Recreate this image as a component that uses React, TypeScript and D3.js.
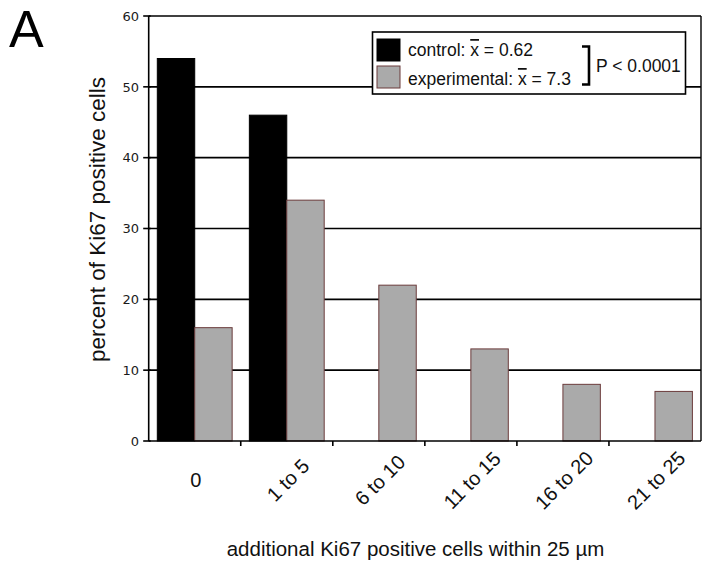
import React from "react";
import * as d3 from "d3";

const categories = ["0", "1 to 5", "6 to 10", "11 to 15", "16 to 20", "21 to 25"];
const seriesNames = ["control", "experimental"];
const controlValues = [54, 46, 0, 0, 0, 0];
const experimentalValues = [16, 34, 22, 13, 8, 7];
const yTicks = [0, 10, 20, 30, 40, 50, 60];

const W = 703;
const H = 565;
const left = 148.7;
const right = 701;
const top = 16;
const bottom = 441;

const SANS = "'Liberation Sans', Arial, Helvetica, sans-serif";
const GRAY = "#aaaaaa";
const GRAY_STROKE = "#6b3b3b";

export default function App() {
  const x0 = d3.scaleBand<string>().domain(categories).range([left, right]).padding(0);
  const x1 = d3
    .scaleBand<string>()
    .domain(seriesNames)
    .range([0, x0.bandwidth()])
    .paddingInner(0)
    .paddingOuter(0.23);
  const y = d3.scaleLinear().domain([0, 60]).range([bottom, top]);

  const series = [
    { name: "control", values: controlValues, fill: "#000000", stroke: "#000000" },
    { name: "experimental", values: experimentalValues, fill: GRAY, stroke: GRAY_STROKE },
  ];

  const boundaries = categories.slice(1).map((c) => x0(c) as number);

  return (
    <svg
      width={W}
      height={H}
      viewBox={`0 0 ${W} ${H}`}
      style={{ position: "absolute", left: 0, top: 0, background: "#fff" }}
    >
      <rect x={0} y={0} width={W} height={H} fill="#fff" />
      <text x={9} y={47} fontFamily={SANS} fontSize={52} fill="#000">
        A
      </text>

      {yTicks
        .filter((t) => t > 0)
        .map((t) => (
          <line
            key={"g" + t}
            x1={left}
            x2={right}
            y1={y(t)}
            y2={y(t)}
            stroke="#000"
            strokeWidth={1.6}
          />
        ))}
      <line x1={right} x2={right} y1={top} y2={bottom} stroke="#000" strokeWidth={1.4} />

      {series.map((s) =>
        s.values.map((v, i) =>
          v > 0 ? (
            <rect
              key={s.name + i}
              x={(x0(categories[i]) as number) + (x1(s.name) as number)}
              y={y(v)}
              width={x1.bandwidth()}
              height={y(0) - y(v)}
              fill={s.fill}
              stroke={s.stroke}
              strokeWidth={1}
            />
          ) : null
        )
      )}

      <line x1={left} x2={left} y1={top} y2={bottom} stroke="#000" strokeWidth={1.6} />
      <line x1={left} x2={right} y1={bottom} y2={bottom} stroke="#000" strokeWidth={1.6} />
      {yTicks.map((t) => (
        <g key={"yt" + t}>
          <line x1={left - 5.5} x2={left + 2} y1={y(t)} y2={y(t)} stroke="#000" strokeWidth={1.6} />
          <text
            x={139}
            y={y(t)}
            dy="0.36em"
            textAnchor="end"
            fontFamily="'DejaVu Sans', Verdana, sans-serif"
            fontSize={13}
            fill="#1a1a1a"
          >
            {t}
          </text>
        </g>
      ))}
      {boundaries.map((bx, i) => (
        <line key={"xt" + i} x1={bx} x2={bx} y1={bottom} y2={bottom + 5} stroke="#000" strokeWidth={1.6} />
      ))}
      {categories.map((c) => {
        const cx = (x0(c) as number) + x0.bandwidth() / 2 + 1;
        const rot = c.length > 1 ? -45 : 0;
        return (
          <text
            key={"xl" + c}
            transform={`translate(${cx},${480}) rotate(${rot})`}
            textAnchor="middle"
            dy="0.36em"
            fontFamily={SANS}
            fontSize={20}
            fill="#111"
          >
            {c}
          </text>
        );
      })}

      <text
        transform={`translate(105,${219.5}) rotate(-90)`}
        textAnchor="middle"
        fontFamily={SANS}
        fontSize={22.5}
        fill="#111"
      >
        percent of Ki67 positive cells
      </text>
      <text x={415.5} y={556} textAnchor="middle" fontFamily={SANS} fontSize={20.5} fill="#111">
        additional Ki67 positive cells within 25 µm
      </text>

      <rect x={372.5} y={32} width={313} height={62} fill="#fff" stroke="#000" strokeWidth={1.6} />
      <rect x={377} y={39} width={23} height={22} fill="#000" stroke="#000" strokeWidth={1} />
      <rect x={377} y={66} width={23} height={22} fill={GRAY} stroke={GRAY_STROKE} strokeWidth={1} />
      <text x={408} y={56} fontFamily={SANS} fontSize={17.5} fill="#111">
        control: <tspan style={{ textDecoration: "overline" }}>x</tspan> = 0.62
      </text>
      <text x={408} y={85} fontFamily={SANS} fontSize={17.5} fill="#111">
        experimental: <tspan style={{ textDecoration: "overline" }}>x</tspan> = 7.3
      </text>
      <path d="M582,46.5 H589 V84.5 H582" fill="none" stroke="#000" strokeWidth={2.6} />
      <text x={596} y={72} fontFamily={SANS} fontSize={17.5} fill="#111">
        P &lt; 0.0001
      </text>
    </svg>
  );
}
